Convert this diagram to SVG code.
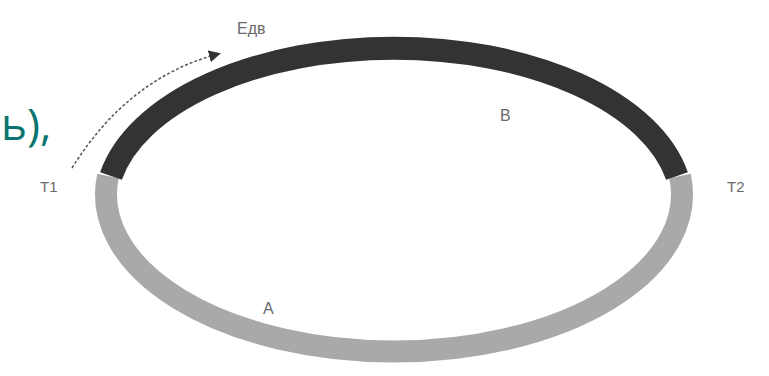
<svg xmlns="http://www.w3.org/2000/svg" width="769" height="376" viewBox="0 0 769 376">
<style>
.lbl{font-family:"Liberation Sans",Arial,sans-serif;fill:#6a6a6a}
</style>
<defs>
<marker id="ah" markerWidth="12" markerHeight="12" refX="9" refY="6" orient="auto" markerUnits="userSpaceOnUse">
<path d="M0,0 L12,6 L0,12 Z" fill="#333"/>
</marker>
</defs>
<rect width="769" height="376" fill="#fff"/>
<text x="1" y="140" font-family="'Open Sans',sans-serif" font-size="44" fill="#0a7570">ь),</text>
<g id="ring">
<path id="arcA" d="M108,176 A288,157 0 1 0 680,176" fill="none" stroke="#a9a9a9" stroke-width="22"/>
<path id="arcB" d="M111,176 A288,157 0 0 1 677,176" fill="none" stroke="#333" stroke-width="23"/>
</g>
<g id="connectors">
<path d="M72,168 Q128,78 218,54" fill="none" stroke="#555" stroke-width="1.5" stroke-dasharray="3,2" marker-end="url(#ah)"/>
</g>
<g id="labels">
<text class="lbl" x="237" y="34" font-size="16">Eдв</text>
<text class="lbl" x="40" y="192" font-size="15">T1</text>
<text class="lbl" x="727" y="192" font-size="15">T2</text>
<text class="lbl" x="500" y="121" font-size="16">B</text>
<text class="lbl" x="263" y="314" font-size="16">A</text>
</g>
</svg>
